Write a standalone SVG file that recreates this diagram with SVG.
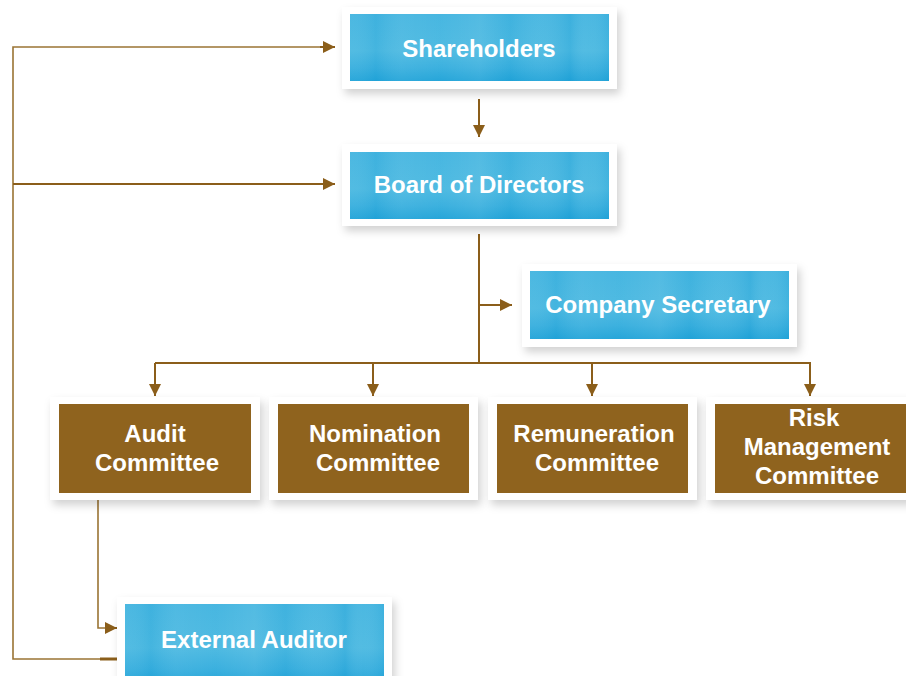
<svg xmlns="http://www.w3.org/2000/svg" width="906" height="676" viewBox="0 0 906 676">
<defs>
<style>
.frame{fill:#ffffff;filter:url(#sh)}
.blue{fill:url(#bg)}
.tex{fill:url(#streak)}
.brown{fill:#8f631e}
.t{font-family:"Liberation Sans",Arial,Helvetica,sans-serif;font-weight:bold;font-size:24px;fill:#ffffff;text-anchor:middle}
.c{stroke:#8b5e1a;stroke-width:2;fill:none}
.c2{stroke:#9a7434;stroke-width:1.6;fill:none}
</style>
<filter id="sh" x="-10%" y="-20%" width="125%" height="150%">
<feDropShadow dx="3" dy="5" stdDeviation="4" flood-color="#000" flood-opacity="0.18"/>
</filter>
<linearGradient id="bg" x1="0" y1="0" x2="0" y2="1">
<stop offset="0" stop-color="#44b5e0"/>
<stop offset="0.55" stop-color="#4bb9e1"/>
<stop offset="0.8" stop-color="#38afde"/>
<stop offset="1" stop-color="#22a4d8"/>
</linearGradient>
<linearGradient id="streak" x1="0" y1="0" x2="1" y2="0">
<stop offset="0" stop-color="#ffffff" stop-opacity="0.04"/>
<stop offset="0.1" stop-color="#0a8fcc" stop-opacity="0.1"/>
<stop offset="0.2" stop-color="#ffffff" stop-opacity="0.06"/>
<stop offset="0.35" stop-color="#ffffff" stop-opacity="0.02"/>
<stop offset="0.5" stop-color="#ffffff" stop-opacity="0.08"/>
<stop offset="0.62" stop-color="#0a8fcc" stop-opacity="0.08"/>
<stop offset="0.72" stop-color="#ffffff" stop-opacity="0.05"/>
<stop offset="0.85" stop-color="#0a8fcc" stop-opacity="0.14"/>
<stop offset="0.92" stop-color="#ffffff" stop-opacity="0.04"/>
<stop offset="1" stop-color="#0a8fcc" stop-opacity="0.12"/>
</linearGradient>
<marker id="ah" viewBox="0 0 12 12" refX="12" refY="6" markerWidth="12" markerHeight="12" markerUnits="userSpaceOnUse" orient="auto">
<path d="M0,0 L12,6 L0,12 Z" fill="#8b5e1a"/>
</marker>
</defs>

<g id="connectors">
<polyline class="c2" points="335,47 13,47 13,659 117,659"/>
<line class="c" x1="13" y1="184" x2="335" y2="184" marker-end="url(#ah)"/>
<line class="c" x1="320" y1="47" x2="335" y2="47" marker-end="url(#ah)"/>
<line x1="100" y1="659" x2="117" y2="659" stroke="#8b5e1a" stroke-width="3"/>
<line class="c" x1="479" y1="99" x2="479" y2="137" marker-end="url(#ah)"/>
<line class="c" x1="479" y1="234" x2="479" y2="363"/>
<line class="c" x1="479" y1="305" x2="512" y2="305" marker-end="url(#ah)"/>
<line class="c" x1="155" y1="363" x2="811" y2="363"/>
<line class="c" x1="155" y1="363" x2="155" y2="396" marker-end="url(#ah)"/>
<line class="c" x1="373" y1="363" x2="373" y2="396" marker-end="url(#ah)"/>
<line class="c" x1="592" y1="363" x2="592" y2="396" marker-end="url(#ah)"/>
<line class="c" x1="810" y1="363" x2="810" y2="396" marker-end="url(#ah)"/>
<polyline class="c2" points="98,500 98,628 117,628"/>
<line class="c" x1="106" y1="628" x2="117" y2="628" marker-end="url(#ah)"/>
</g>

<g id="shareholders">
<rect class="frame" x="342" y="7" width="275" height="82"/>
<rect class="blue" x="350" y="14" width="259" height="67"/>
<rect class="tex" x="350" y="14" width="259" height="67"/>
<text class="t" x="479" y="57">Shareholders</text>
</g>

<g id="board">
<rect class="frame" x="342" y="144" width="275" height="82"/>
<rect class="blue" x="350" y="152" width="259" height="67"/>
<rect class="tex" x="350" y="152" width="259" height="67"/>
<text class="t" x="479" y="193">Board of Directors</text>
</g>

<g id="secretary">
<rect class="frame" x="522" y="264" width="275" height="83"/>
<rect class="blue" x="530" y="271" width="259" height="68"/>
<rect class="tex" x="530" y="271" width="259" height="68"/>
<text class="t" x="658" y="313">Company Secretary</text>
</g>

<g id="audit">
<rect class="frame" x="50" y="397" width="210" height="103"/>
<rect class="brown" x="59" y="404" width="192" height="89"/>
<text class="t" x="155" y="442">Audit</text>
<text class="t" x="157" y="471">Committee</text>
</g>

<g id="nomination">
<rect class="frame" x="269" y="397" width="209" height="103"/>
<rect class="brown" x="278" y="404" width="191" height="89"/>
<text class="t" x="375" y="442">Nomination</text>
<text class="t" x="378" y="471">Committee</text>
</g>

<g id="remuneration">
<rect class="frame" x="488" y="397" width="209" height="103"/>
<rect class="brown" x="497" y="404" width="191" height="89"/>
<text class="t" x="594" y="442">Remuneration</text>
<text class="t" x="597" y="471">Committee</text>
</g>

<g id="risk">
<rect class="frame" x="706" y="397" width="220" height="103"/>
<rect class="brown" x="715" y="404" width="200" height="89"/>
<text class="t" x="814" y="426">Risk</text>
<text class="t" x="817" y="455">Management</text>
<text class="t" x="817" y="484">Committee</text>
</g>

<g id="external-auditor">
<rect class="frame" x="117" y="597" width="275" height="95"/>
<rect class="blue" x="125" y="604" width="259" height="80"/>
<rect class="tex" x="125" y="604" width="259" height="80"/>
<text class="t" x="254" y="648">External Auditor</text>
</g>
</svg>
